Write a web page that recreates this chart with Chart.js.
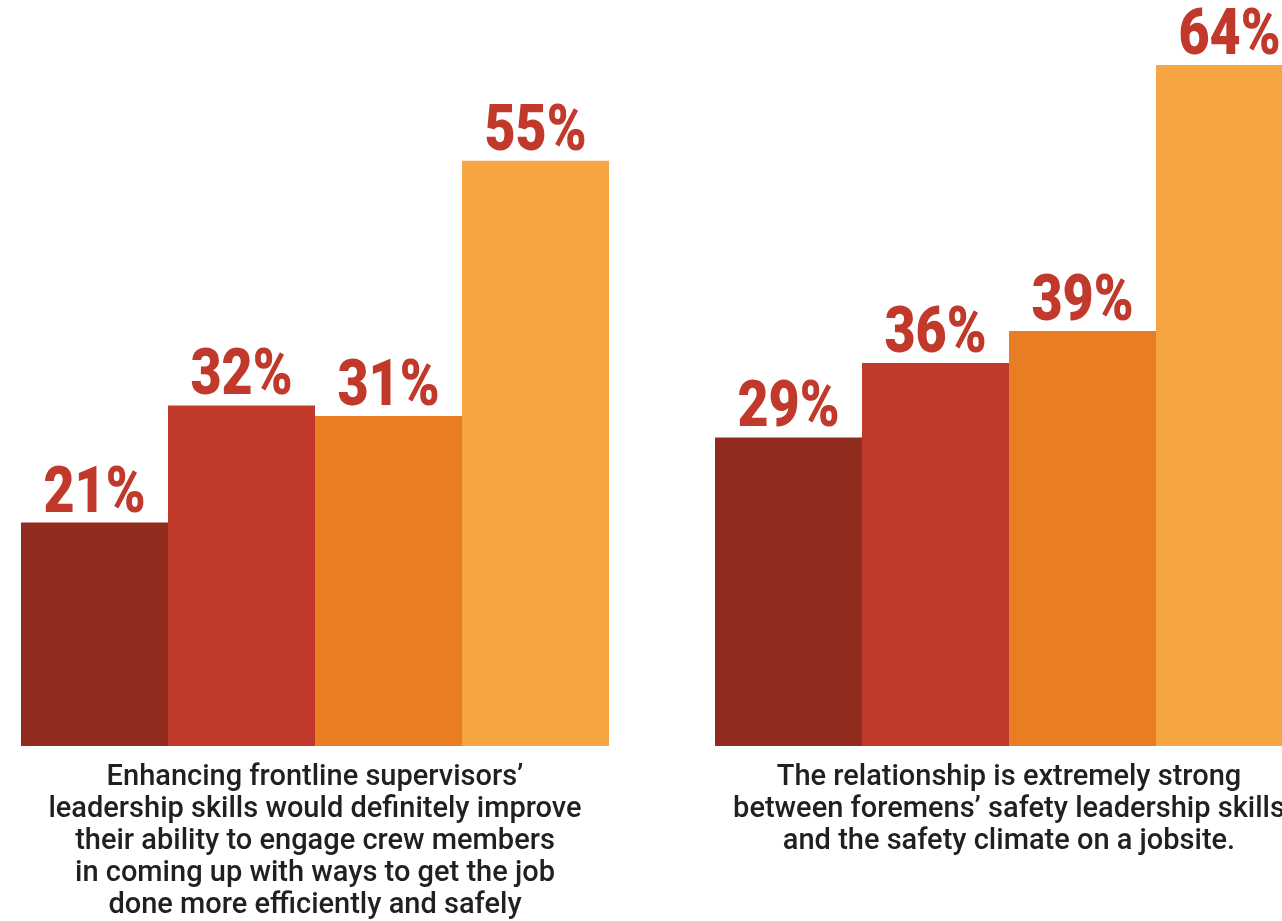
<!DOCTYPE html>
<html>
<head>
<meta charset="utf-8">
<script src="https://cdn.jsdelivr.net/npm/chart.js@4/dist/chart.umd.min.js"></script>
<style>
  html, body { margin: 0; padding: 0; background: #ffffff; }
  body { width: 1282px; height: 921px; overflow: hidden; position: relative; }
  #wrap { position: absolute; left: -32px; top: 0; width: 1388px; height: 938px; }
</style>
</head>
<body>
<div id="wrap"><canvas id="c" width="1388" height="938"></canvas></div>
<script>
const categories = [
  ["Enhancing frontline supervisors\u2019", "leadership skills would definitely improve", "their ability to engage crew members", "in coming up with ways to get the job", "done more efficiently and safely"],
  ["The relationship is extremely strong", "between foremens\u2019 safety leadership skills", "and the safety climate on a jobsite."]
];
const series1 = [21, 29];
const series2 = [32, 36];
const series3 = [31, 39];
const series4 = [55, 64];
const seriesColors = ["#912b1d", "#c0392a", "#e87d23", "#f6a542"];

const valueLabels = {
  id: 'valueLabels',
  afterDatasetsDraw(chart) {
    const ctx = chart.ctx;
    chart.data.datasets.forEach((ds, i) => {
      chart.getDatasetMeta(i).data.forEach((bar, j) => {
        ctx.save();
        ctx.fillStyle = '#c0392a';
        ctx.font = '900 64px Roboto, "DejaVu Sans", sans-serif';
        ctx.textAlign = 'center';
        ctx.textBaseline = 'alphabetic';
        ctx.translate(bar.x, bar.y - 11);
        ctx.scale(0.84, 1);
        ctx.fillText(ds.data[j] + '%', 0, 0);
        ctx.restore();
      });
    });
  }
};

new Chart(document.getElementById('c'), {
  type: 'bar',
  data: {
    labels: categories,
    datasets: [series1, series2, series3, series4].map((d, i) => ({
      data: d,
      backgroundColor: seriesColors[i],
      borderWidth: 0,
      categoryPercentage: 588 / 694,
      barPercentage: 1.0
    }))
  },
  options: {
    responsive: false,
    animation: false,
    layout: { padding: 0 },
    plugins: { legend: { display: false }, tooltip: { enabled: false } },
    scales: {
      x: {
        grid: { display: false, drawTicks: false },
        border: { display: false },
        ticks: {
          padding: 16,
          color: '#231f20',
          font: { family: 'Roboto, "Open Sans", sans-serif', size: 29, weight: '500', lineHeight: '32px' },
          maxRotation: 0,
          autoSkip: false
        }
      },
      y: {
        display: false,
        min: 0,
        max: 70.1
      }
    }
  },
  plugins: [valueLabels]
});
</script>
</body>
</html>
